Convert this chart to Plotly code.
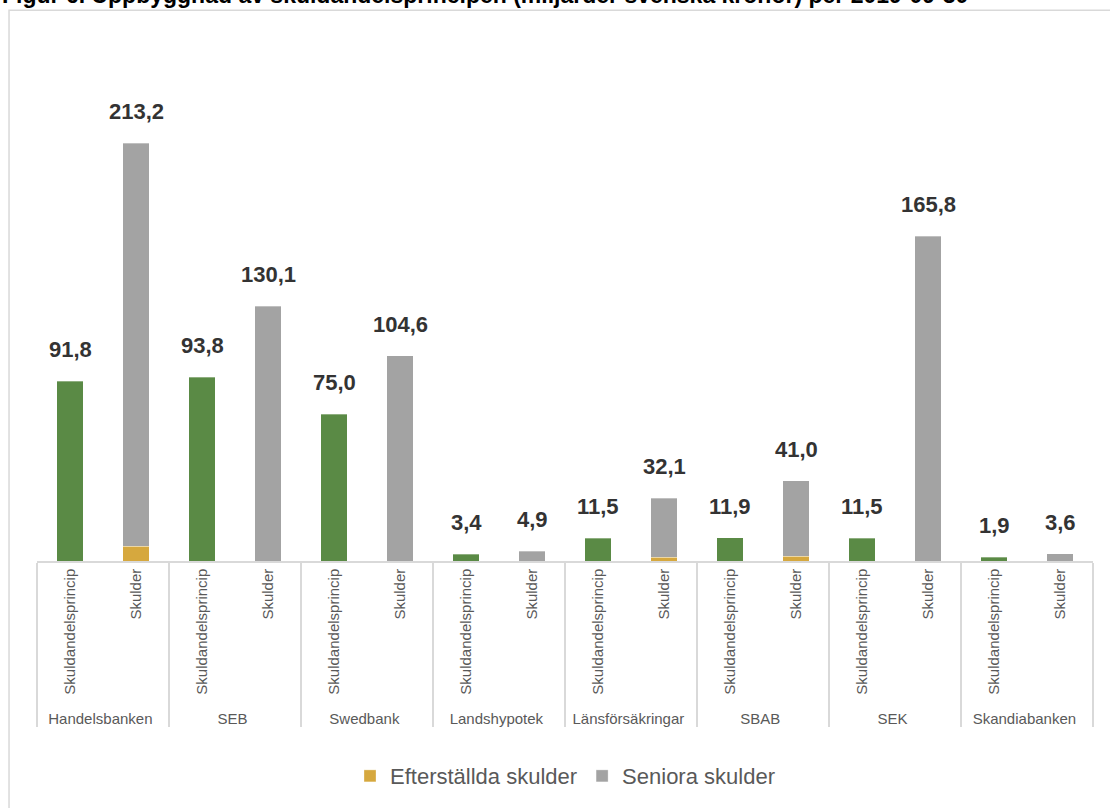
import plotly.graph_objects as go

banks = ["Handelsbanken", "SEB", "Swedbank", "Landshypotek", "Länsförsäkringar",
         "SBAB", "SEK", "Skandiabanken"]
principle = [91.8, 93.8, 75.0, 3.4, 11.5, 11.9, 11.5, 1.9]
total_debt = [213.2, 130.1, 104.6, 4.9, 32.1, 41.0, 165.8, 3.6]
subordinated = [7.6, 0.0, 0.0, 0.0, 2.0, 2.5, 0.0, 0.0]
senior = [round(t - s, 1) for t, s in zip(total_debt, subordinated)]
inner = ["Skuldandelsprincip", "Skulder"]

GREEN = "#5a8a45"
GRAY = "#a3a3a3"
YELLOW = "#d6a83e"
TXT = "#595959"
FONT = "Liberation Sans, Arial, sans-serif"

outer_x, inner_x = [], []
for b in banks:
    for c in inner:
        outer_x.append(b)
        inner_x.append(c)

def per_cat(vals, cat):
    out = []
    for i, b in enumerate(banks):
        for c in inner:
            out.append(vals[i] if c == cat else None)
    return out

fig = go.Figure()
fig.add_trace(go.Bar(x=[outer_x, inner_x], y=per_cat(principle, "Skuldandelsprincip"),
                     marker=dict(color=GREEN, line=dict(color="rgba(255,255,255,0.4)", width=0.8)),
                     showlegend=False, name="Skuldandelsprincip"))
fig.add_trace(go.Bar(x=[outer_x, inner_x], y=per_cat(subordinated, "Skulder"),
                     marker=dict(color=YELLOW, line=dict(color="rgba(255,255,255,0.4)", width=0.8)),
                     name="Efterställda skulder"))
fig.add_trace(go.Bar(x=[outer_x, inner_x], y=per_cat(senior, "Skulder"),
                     marker=dict(color=GRAY, line=dict(color="rgba(255,255,255,0.4)", width=0.8)),
                     name="Seniora skulder"))

def fmt(v):
    return f"{v:.1f}".replace(".", ",")

for i, b in enumerate(banks):
    for j, (c, v) in enumerate(zip(inner, [principle[i], total_debt[i]])):
        fig.add_annotation(x=2 * i + j, y=v, xref="x", yref="y", text=fmt(v),
                           showarrow=False, yanchor="bottom", yshift=17,
                           font=dict(family=FONT, size=22, color="#333333", weight="bold"))

fig.add_annotation(xref="paper", yref="paper", x=-0.035, y=1.1242, xanchor="left", yanchor="bottom",
                   text="Figur 6. Uppbyggnad av skuldandelsprincipen (miljarder svenska kronor) per 2019-09-30",
                   showarrow=False, font=dict(family=FONT, size=23, color="#000000", weight="bold"))

fig.add_shape(type="rect", xref="paper", yref="paper", x0=-0.0265, x1=1.05, y0=-0.7, y1=1.1242,
              line=dict(color="#d9d9d9", width=1.5), fillcolor="rgba(0,0,0,0)", layer="below")

fig.update_layout(
    width=1110, height=808,
    margin=dict(l=37, r=17, t=71, b=246),
    barmode="stack", bargap=0.6,
    plot_bgcolor="white", paper_bgcolor="white",
    font=dict(family=FONT, color=TXT, size=15),
    legend=dict(orientation="h", x=0.5, xanchor="center", y=-0.436, yanchor="middle",
                font=dict(size=22, color=TXT), traceorder="normal"),
    xaxis=dict(type="multicategory", tickangle=-90, showline=True, linecolor="#d9d9d9", linewidth=1.5,
               showdividers=True, dividercolor="#d9d9d9", dividerwidth=1.5,
               tickfont=dict(size=15, color=TXT), ticks=""),
    yaxis=dict(range=[0, 250], visible=False, showgrid=False, zeroline=False),
)

fig.write_html("out.html")
